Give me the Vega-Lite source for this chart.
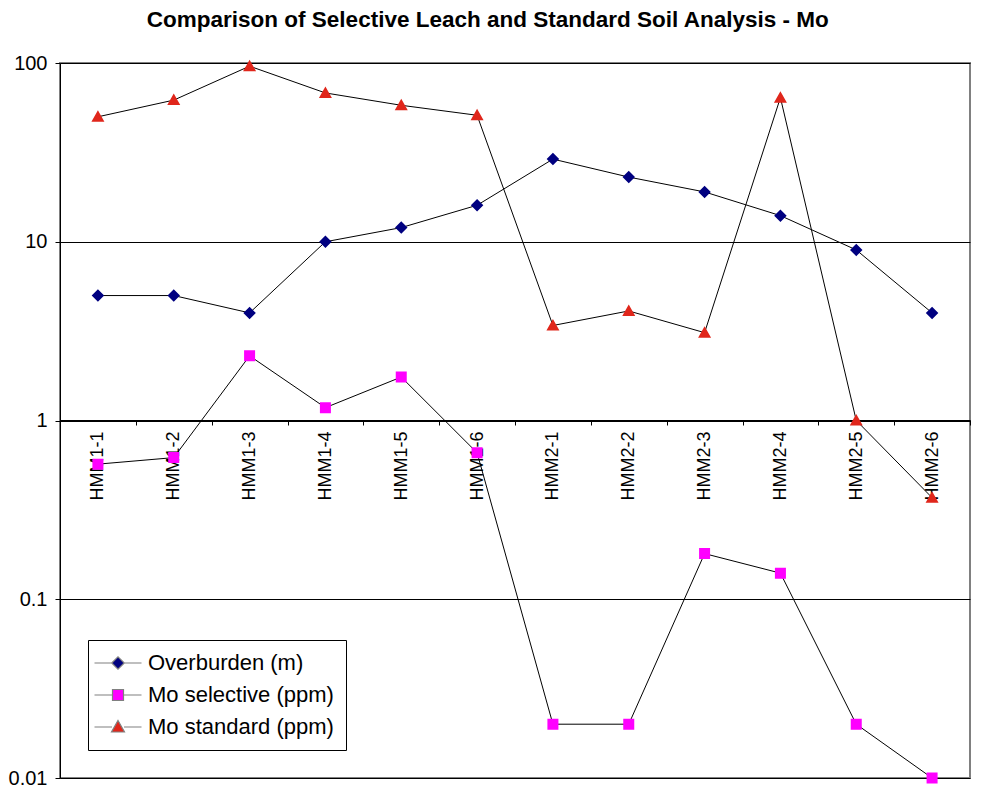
{
  "$schema": "https://vega.github.io/schema/vega-lite/v6.json",
  "width": 910,
  "height": 715,
  "padding": {"left": 5, "top": 8, "right": 5, "bottom": 5},
  "background": "white",
  "title": {
    "text": "Comparison of Selective Leach and Standard Soil Analysis - Mo",
    "font": "Liberation Sans",
    "fontSize": 22.5,
    "fontWeight": "bold",
    "color": "black",
    "offset": 22,
    "anchor": "middle",
    "frame": "bounds"
  },
  "config": {
    "view": {"stroke": "#808080", "strokeWidth": 2},
    "font": "Liberation Sans"
  },
  "data": {
    "values": [
      {"sample": "HMM1-1", "series": "Overburden (m)", "value": 5},
      {"sample": "HMM1-2", "series": "Overburden (m)", "value": 5},
      {"sample": "HMM1-3", "series": "Overburden (m)", "value": 4},
      {"sample": "HMM1-4", "series": "Overburden (m)", "value": 10},
      {"sample": "HMM1-5", "series": "Overburden (m)", "value": 12},
      {"sample": "HMM1-6", "series": "Overburden (m)", "value": 16},
      {"sample": "HMM2-1", "series": "Overburden (m)", "value": 29},
      {"sample": "HMM2-2", "series": "Overburden (m)", "value": 23},
      {"sample": "HMM2-3", "series": "Overburden (m)", "value": 19},
      {"sample": "HMM2-4", "series": "Overburden (m)", "value": 14},
      {"sample": "HMM2-5", "series": "Overburden (m)", "value": 9},
      {"sample": "HMM2-6", "series": "Overburden (m)", "value": 4},
      {"sample": "HMM1-1", "series": "Mo selective (ppm)", "value": 0.57},
      {"sample": "HMM1-2", "series": "Mo selective (ppm)", "value": 0.62},
      {"sample": "HMM1-3", "series": "Mo selective (ppm)", "value": 2.3},
      {"sample": "HMM1-4", "series": "Mo selective (ppm)", "value": 1.18},
      {"sample": "HMM1-5", "series": "Mo selective (ppm)", "value": 1.75},
      {"sample": "HMM1-6", "series": "Mo selective (ppm)", "value": 0.66},
      {"sample": "HMM2-1", "series": "Mo selective (ppm)", "value": 0.02},
      {"sample": "HMM2-2", "series": "Mo selective (ppm)", "value": 0.02},
      {"sample": "HMM2-3", "series": "Mo selective (ppm)", "value": 0.18},
      {"sample": "HMM2-4", "series": "Mo selective (ppm)", "value": 0.14},
      {"sample": "HMM2-5", "series": "Mo selective (ppm)", "value": 0.02},
      {"sample": "HMM2-6", "series": "Mo selective (ppm)", "value": 0.01},
      {"sample": "HMM1-1", "series": "Mo standard (ppm)", "value": 50},
      {"sample": "HMM1-2", "series": "Mo standard (ppm)", "value": 62},
      {"sample": "HMM1-3", "series": "Mo standard (ppm)", "value": 96},
      {"sample": "HMM1-4", "series": "Mo standard (ppm)", "value": 68},
      {"sample": "HMM1-5", "series": "Mo standard (ppm)", "value": 58},
      {"sample": "HMM1-6", "series": "Mo standard (ppm)", "value": 51},
      {"sample": "HMM2-1", "series": "Mo standard (ppm)", "value": 3.4},
      {"sample": "HMM2-2", "series": "Mo standard (ppm)", "value": 4.1},
      {"sample": "HMM2-3", "series": "Mo standard (ppm)", "value": 3.1},
      {"sample": "HMM2-4", "series": "Mo standard (ppm)", "value": 64},
      {"sample": "HMM2-5", "series": "Mo standard (ppm)", "value": 1.0},
      {"sample": "HMM2-6", "series": "Mo standard (ppm)", "value": 0.37}
    ]
  },
  "encoding": {
    "x": {
      "field": "sample",
      "type": "nominal",
      "sort": null,
      "scale": {"paddingInner": 0, "paddingOuter": 0},
      "axis": {
        "title": null,
        "orient": "bottom",
        "offset": -358,
        "labelAngle": -90,
        "labelFont": "Liberation Sans",
        "labelFontSize": 18,
        "labelColor": "black",
        "labelPadding": 6,
        "tickBand": "extent",
        "tickSize": 5,
        "tickColor": "black",
        "domainColor": "black",
        "domainWidth": 1,
        "grid": false
      }
    },
    "y": {
      "field": "value",
      "type": "quantitative",
      "scale": {"type": "log", "domain": [0.01, 100], "nice": false},
      "axis": {
        "title": null,
        "values": [0.01, 0.1, 1, 10, 100],
        "format": "~g",
        "labelFont": "Liberation Sans",
        "labelFontSize": 20,
        "labelColor": "black",
        "labelPadding": 8,
        "tickSize": 5,
        "tickColor": "black",
        "domainColor": "black",
        "grid": true,
        "gridColor": "black",
        "gridOpacity": 1,
        "gridWidth": 1,
        "minExtent": 55,
        "maxExtent": 55
      }
    }
  },
  "layer": [
    {
      "mark": {"type": "line", "color": "black", "strokeWidth": 1},
      "encoding": {"detail": {"field": "series"}}
    },
    {
      "mark": {"type": "point", "filled": true, "size": 100, "opacity": 1, "strokeWidth": 0},
      "encoding": {
        "color": {
          "field": "series",
          "type": "nominal",
          "scale": {
            "domain": ["Overburden (m)", "Mo selective (ppm)", "Mo standard (ppm)"],
            "range": ["#000080", "#ff00ff", "#e0261b"]
          },
          "legend": {
            "title": null,
            "orient": "bottom-left",
            "offset": 28,
            "padding": 12,
            "strokeColor": "black",
            "fillColor": "white",
            "labelFont": "Liberation Sans",
            "labelFontSize": 22,
            "labelColor": "black",
            "labelOffset": 19,
            "labelLimit": 400,
            "rowPadding": 10,
            "symbolOffset": 7,
            "symbolStrokeColor": "#808080",
            "symbolStrokeWidth": 1.2,
            "encode": {
              "symbols": {
                "enter": {"stroke": {"value": "#808080"}, "strokeWidth": {"value": 1.2}},
                "update": {"stroke": {"value": "#808080"}, "strokeWidth": {"value": 1.2}}
              }
            }
          }
        },
        "shape": {
          "field": "series",
          "type": "nominal",
          "scale": {
            "domain": ["Overburden (m)", "Mo selective (ppm)", "Mo standard (ppm)"],
            "range": [
              "M-4.7,0H-1.25M1.25,0H4.7M-1.25,0L0,-1.25L1.25,0L0,1.25Z",
              "M-4.7,0H-1.1M1.1,0H4.7M-1.1,-1.1H1.1V1.1H-1.1Z",
              "M-4.7,0H-1.2M1.2,0H4.7M0,-1.3L1.3,1.0L-1.3,1.0Z"
            ]
          }
        }
      }
    }
  ]
}
